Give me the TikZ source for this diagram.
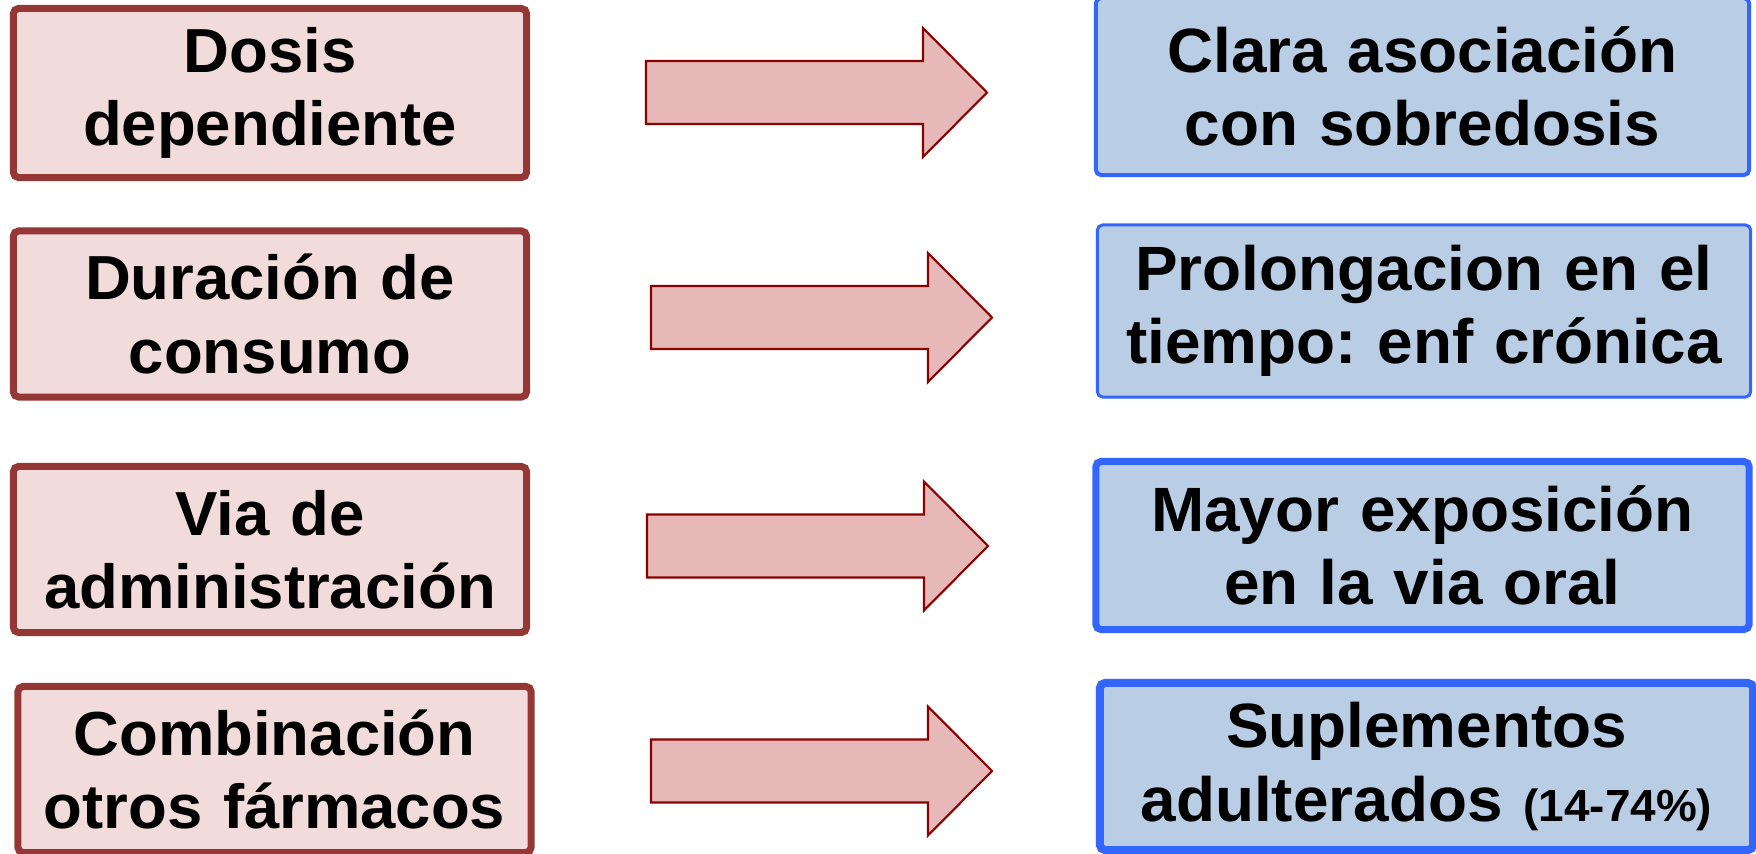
\documentclass[tikz,border=0pt]{standalone}
\usepackage{fontspec}
\setmainfont{Liberation Sans}[FakeStretch=1.02]
\usepackage{tikz}
\usetikzlibrary{positioning}
\definecolor{causafondo}{HTML}{F2DCDB}
\definecolor{causaborde}{HTML}{953735}
\definecolor{efectofondo}{HTML}{B9CDE5}
\definecolor{efectoborde}{HTML}{3366FF}
\definecolor{flechafondo}{HTML}{E6B9B8}
\definecolor{flechaborde}{HTML}{8B0000}
\frenchspacing
\tikzset{
  causa/.style={draw=causaborde, fill=causafondo, line width=0.07cm, rounded corners=1.5pt,
    minimum width=5.13cm, minimum height=1.66cm, text width=5cm, align=center, inner sep=0pt,
    font=\fontsize{17.7}{20.8}\selectfont\bfseries},
  efecto/.style={draw=efectoborde, fill=efectofondo, rounded corners=1.5pt,
    minimum width=6.53cm, minimum height=1.72cm, text width=6.4cm, align=center, inner sep=0pt,
    font=\fontsize{17.8}{20.8}\selectfont\bfseries},
  flecha/.style={draw=flechaborde, fill=flechafondo, line width=0.6pt, line join=miter}
}
\begin{document}
\begin{tikzpicture}[x=0.01cm, y=-0.01cm]
\clip (0,0) rectangle (1756,854);
\fill[white] (0,0) rectangle (1756,854);
\node[causa, minimum height=1.69cm] (dosis) at (270,93) {Dosis\\dependiente};
\node[causa] (duracion) at (270,314) {Duración de\\consumo};
\node[causa] (via) at (270,549.5) {Via de\\administración};
\node[causa] (combi) at (274.5,769.5) {Combinación\\otros fármacos};
\node[efecto, line width=0.04cm, minimum height=1.77cm] (sobredosis) at (1422.5,86.5) {Clara asociación\\con sobredosis};
\node[efecto, line width=0.03cm] (cronica) at (1424,311) {Prolongacion en el\\tiempo: enf crónica};
\node[efecto, line width=0.07cm, minimum height=1.68cm] (oral) at (1422.5,545.5) {Mayor exposición\\en la via oral};
\node[efecto, line width=0.08cm, minimum height=1.67cm] (suplem) at (1426.5,766.5) {Suplementos\\adulterados {\fontsize{12.8}{14}\selectfont(14-74\%)}};
\foreach \n/\x/\y in {1/646/92.5, 2/651/317.5, 3/647/546, 4/651/771} {
  \coordinate (f\n) at (\x,\y);
  \draw[flecha] (f\n) ++(0,-31.5) -- ++(277,0) -- ++(0,-33) -- ++(64,64.5)
    -- ++(-64,64.5) -- ++(0,-33) -- ++(-277,0) -- cycle;
}
\end{tikzpicture}
\end{document}
